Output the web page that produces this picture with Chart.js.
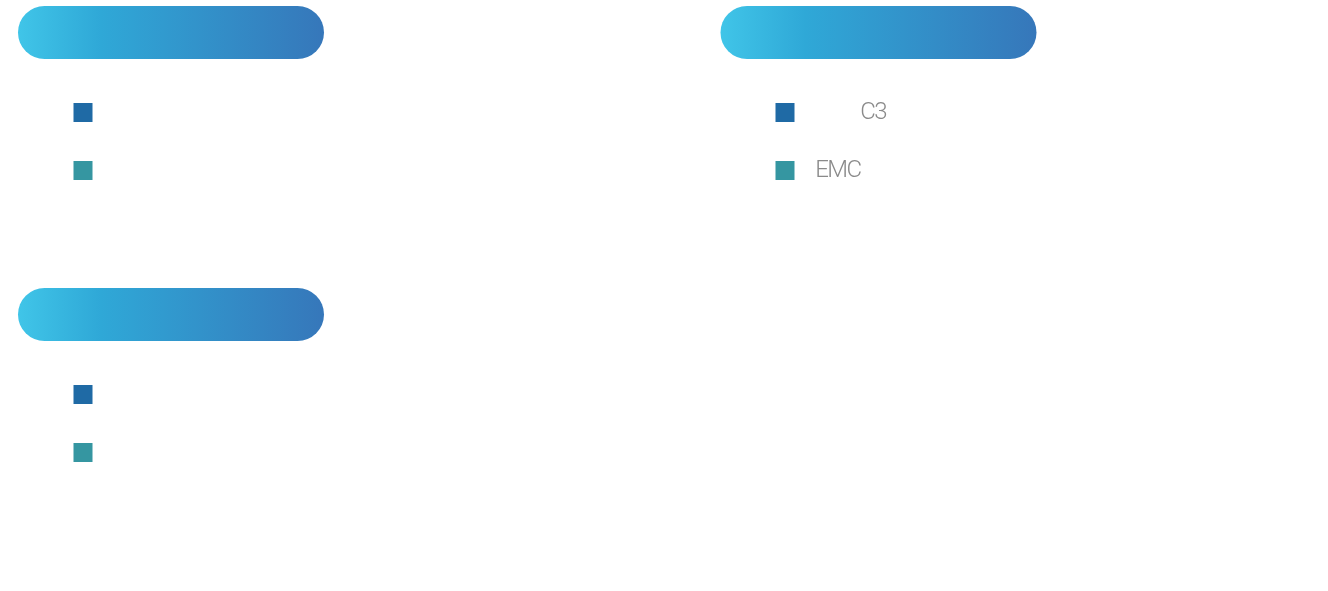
<!DOCTYPE html>
<html>
<head>
<meta charset="utf-8">
<script src="https://cdn.jsdelivr.net/npm/chart.js@4"></script>
<style>
    html, body { margin: 0; padding: 0; background: #fff; }
    body { width: 1328px; height: 591px; position: relative; overflow: hidden; }
    canvas { position: absolute; }
</style>
</head>
<body>
<canvas id="panelA" width="660" height="280" style="left:0;top:0"></canvas>
<canvas id="panelB" width="628" height="280" style="left:700px;top:0"></canvas>
<canvas id="panelC" width="660" height="300" style="left:0;top:282px"></canvas>
<script>
// legend entries per panel (the picture has no plotted values)
const panelALabels = ['', ''];
const panelBLabels = ['\u3000\u3000  C3', '  EMC'];
const panelCLabels = ['', ''];
const seriesValues = [[], []];
const seriesColors = ['#1f6aa5', '#3596a1'];

// gradient pill header behind each panel
const pillPlugin = {
    id: 'pill',
    beforeDraw(chart, args, opts) {
        const ctx = chart.ctx;
        const { x, y, w, h } = opts;
        const r = h / 2;
        const g = ctx.createLinearGradient(x, 0, x + w, 0);
        g.addColorStop(0, '#40c5e8');
        g.addColorStop(0.27, '#2fa8d7');
        g.addColorStop(1, '#3677ba');
        ctx.save();
        ctx.fillStyle = g;
        ctx.beginPath();
        ctx.moveTo(x + r, y);
        ctx.lineTo(x + w - r, y);
        ctx.arc(x + w - r, y + r, r, -Math.PI / 2, Math.PI / 2);
        ctx.lineTo(x + r, y + h);
        ctx.arc(x + r, y + r, r, Math.PI / 2, Math.PI * 1.5);
        ctx.closePath();
        ctx.fill();
        ctx.restore();
        // tighter letters, closer to the condensed face in the original
        ctx.letterSpacing = '-1.5px';
    }
};

function makePanel(id, labels, pill, pad) {
    return new Chart(document.getElementById(id), {
        type: 'bar',
        data: {
            labels: [],
            datasets: labels.map((label, i) => ({
                label: label,
                data: seriesValues[i],
                backgroundColor: seriesColors[i],
                borderWidth: 0
            }))
        },
        options: {
            responsive: false,
            animation: false,
            devicePixelRatio: 1,
            layout: { padding: pad },
            scales: {
                x: { display: false },
                y: { display: false }
            },
            plugins: {
                pill: pill,
                tooltip: { enabled: false },
                legend: {
                    position: 'left',
                    align: 'start',
                    labels: {
                        boxWidth: 19,
                        boxHeight: 19,
                        padding: 34,
                        color: '#8a8a8a',
                        font: { family: 'Roboto', size: 24, weight: 300 }
                    }
                }
            }
        },
        plugins: [pillPlugin]
    });
}

makePanel('panelA', panelALabels, { x: 18, y: 6, w: 306, h: 53 }, { left: 39.5, top: 66.5 });
makePanel('panelB', panelBLabels, { x: 20.5, y: 6, w: 316, h: 53 }, { left: 41.5, top: 66.5 });
makePanel('panelC', panelCLabels, { x: 18, y: 6, w: 306, h: 53 }, { left: 39.5, top: 66.5 });
</script>
</body>
</html>
